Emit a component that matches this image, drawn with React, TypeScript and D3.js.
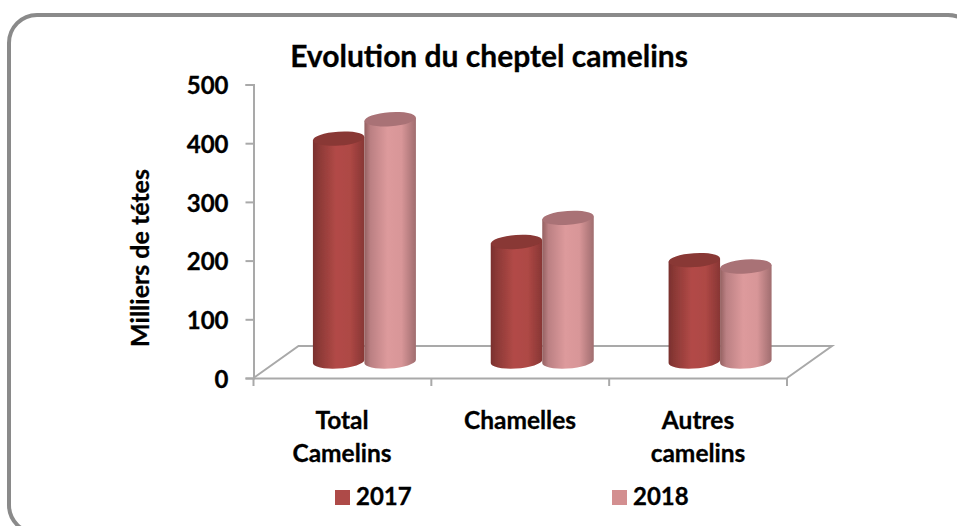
import React, { useEffect, useRef } from 'react';
import * as d3 from 'd3';

const categories = ['Total Camelins', 'Chamelles', 'Autres camelins'];
const categoryLines = [['Total', 'Camelins'], ['Chamelles'], ['Autres', 'camelins']];
const series2017 = [378, 202, 171];
const series2018 = [411, 243, 160];
const years = ['2017', '2018'];
const yTicks = [0, 100, 200, 300, 400, 500];

const FONT = 'Lato, Carlito, Calibri, sans-serif';
const GREY = '#a9a9a9';

export default function App() {
	const ref = useRef<SVGSVGElement>(null);

	useEffect(() => {
		const svg = d3.select(ref.current);
		svg.selectAll('*').remove();

		const y = d3.scaleLinear().domain([0, 500]).range([378, 84.5]);
		const x = d3.scaleBand().domain(categories).range([253.5, 787]);
		const depthX = 45;
		const depthY = 32;
		const offX = 22;
		const offY = 16;

		const defs = svg.append('defs');
		const grad = (id: string, stops: [number, string][]) => {
			const g = defs.append('linearGradient').attr('id', id);
			stops.forEach(([o, c]) => g.append('stop').attr('offset', o).attr('stop-color', c));
		};
		grad('cyl2017', [[0, '#7a302e'], [0.12, '#8c3936'], [0.45, '#b24a47'], [0.72, '#ae4845'], [1, '#873634']]);
		grad('cyl2018', [[0, '#946060'], [0.12, '#bb8083'], [0.45, '#dd9a9c'], [0.72, '#d89698'], [1, '#a06d6f']]);
		defs.append('filter').attr('id', 'soft').append('feGaussianBlur').attr('stdDeviation', 0.6);

		// Frame, runs past the right and bottom edges of the picture
		svg.append('rect')
			.attr('x', 9).attr('y', 15).attr('width', 967).attr('height', 518).attr('rx', 28)
			.attr('fill', '#fff').attr('stroke', '#8a8a8a').attr('stroke-width', 4);

		// Floor
		const [x0, x1] = x.range();
		const floor = d3.path();
		floor.moveTo(x0, y(0));
		floor.lineTo(x0 + depthX, y(0) - depthY);
		floor.lineTo(x1 + depthX, y(0) - depthY);
		floor.lineTo(x1, y(0));
		svg.append('path').attr('d', floor.toString()).attr('fill', 'none')
			.attr('stroke', GREY).attr('stroke-width', 2);

		// Axes
		const yAxis = svg.append('g').attr('transform', `translate(${x0},0)`)
			.call(d3.axisLeft(y).tickValues(yTicks).tickSize(8).tickPadding(17));
		const xAxis = svg.append('g').attr('transform', `translate(0,${y(0)})`)
			.call(d3.axisBottom(x).tickSize(0).tickFormat(() => ''));
		// x ticks sit between the categories
		xAxis.selectAll('.tick').remove();
		xAxis.selectAll('line.sep').data([...categories.map(c => x(c) as number), x1]).enter().append('line')
			.attr('class', 'sep')
			.attr('x1', d => d).attr('x2', d => d).attr('y1', 0).attr('y2', 8);
		[yAxis, xAxis].forEach((a) => {
			a.selectAll('path,line').attr('stroke', GREY).attr('stroke-width', 2);
		});
		yAxis.selectAll('text')
			.attr('font-family', FONT).attr('font-weight', 700).attr('font-size', 24).attr('fill', '#000')
			.attr('stroke', '#000').attr('stroke-width', 0.3)
			.attr('dy', '0.38em');

		// Cylinders
		const barW = 51.5;
		const ry = 7;
		const bars = svg.append('g').attr('filter', 'url(#soft)');
		const drawBar = (cx: number, v: number, body: string, top: string) => {
			const yTop = y(v) - offY;
			const yBase = y(0) - offY + 1;
			const hw = barW / 2;
			const d = `M${cx - hw},${yTop}L${cx - hw},${yBase}A${hw},${ry} -4 0 0 ${cx + hw},${yBase - 3}L${cx + hw},${yTop - 3}Z`;
			bars.append('path').attr('d', d).attr('fill', body);
			bars.append('ellipse')
				.attr('cx', cx).attr('cy', yTop - 1.5).attr('rx', hw).attr('ry', ry)
				.attr('transform', `rotate(-4 ${cx} ${yTop - 1.5})`)
				.attr('fill', top);
		};
		categories.forEach((c, i) => {
			const mid = (x(c) as number) + x.bandwidth() / 2 + offX;
			drawBar(mid - barW / 2, series2017[i], 'url(#cyl2017)', '#893734');
			drawBar(mid + barW / 2, series2018[i], 'url(#cyl2018)', '#a97276');
		});

		const text = (s: string, tx: number, ty: number, size: number, anchor = 'middle') => svg.append('text')
			.attr('x', tx).attr('y', ty).attr('text-anchor', anchor)
			.attr('font-family', FONT).attr('font-weight', 700).attr('font-size', size).attr('fill', '#000')
			.attr('stroke', '#000').attr('stroke-width', 0.3)
			.text(s);

		// Title, axis title
		text('Evolution du cheptel camelins', 489, 67, 30);
		text('Milliers de tétes', 0, 0, 25).attr('transform', 'translate(149,258) rotate(-90)');

		// Category labels
		const labelX = [342, 520, 698];
		categoryLines.forEach((lines, i) => {
			lines.forEach((l, j) => text(l, labelX[i], 429 + j * 33, 24.5));
		});

		// Legend
		const legendX = [335, 612];
		const legendColor = ['#ae4a48', '#d38f90'];
		years.forEach((yr, i) => {
			svg.append('rect').attr('x', legendX[i]).attr('y', 490).attr('width', 15).attr('height', 15)
				.attr('fill', legendColor[i]);
			text(yr, legendX[i] + 21, 505, 24, 'start');
		});
	}, []);

	return <svg ref={ref} width={957} height={526} style={{ position: 'absolute', left: 0, top: 0, display: 'block' }} />;
}
